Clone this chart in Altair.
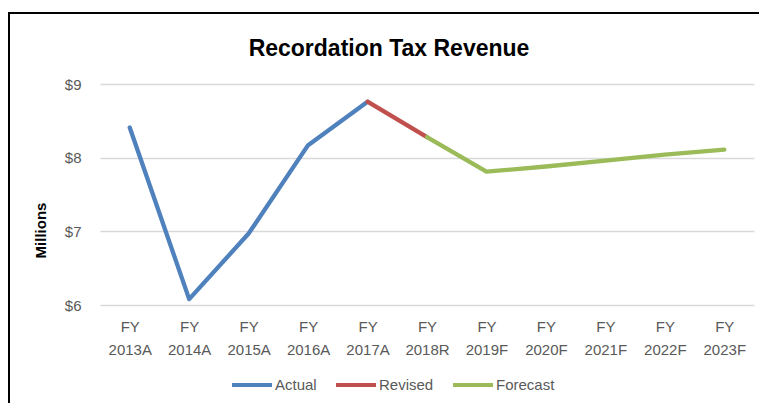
import altair as alt
import pandas as pd

categories = ["FY 2013A", "FY 2014A", "FY 2015A", "FY 2016A", "FY 2017A", "FY 2018R",
              "FY 2019F", "FY 2020F", "FY 2021F", "FY 2022F", "FY 2023F"]
actual_cats = categories[0:5]
actual_vals = [8.41, 6.08, 6.97, 8.17, 8.76]
revised_cats = categories[4:6]
revised_vals = [8.76, 8.28]
forecast_cats = categories[5:11]
forecast_vals = [8.28, 7.81, 7.88, 7.96, 8.04, 8.11]

series_names = ["Actual", "Revised", "Forecast"]
series_colors = ["#4F81BD", "#C0504D", "#9BBB59"]
chart_title = "Recordation Tax Revenue"

rows = []
for name, cats, vals in [("Actual", actual_cats, actual_vals),
                         ("Revised", revised_cats, revised_vals),
                         ("Forecast", forecast_cats, forecast_vals)]:
    for c, v in zip(cats, vals):
        rows.append({"series": name, "year": c, "value": v})
df = pd.DataFrame(rows)

FONT = "Liberation Sans"
GRAY = "#595959"

lines = alt.Chart(df).mark_line(strokeWidth=4.3, strokeCap="round", strokeJoin="round").encode(
    x=alt.X("year:O", sort=categories, scale=alt.Scale(domain=categories, padding=0.5),
            axis=alt.Axis(title=None, labelAngle=0, ticks=False, domain=False, grid=False,
                          labelExpr="split(datum.label, ' ')", labelLineHeight=23,
                          labelPadding=14, labelFontSize=15, labelColor=GRAY, labelFont=FONT)),
    y=alt.Y("value:Q", scale=alt.Scale(domain=[6, 9], nice=False, zero=False),
            axis=alt.Axis(title="Millions", values=[6, 7, 8, 9], format="$d", ticks=False,
                          domain=False, gridColor="#D9D9D9", gridWidth=1.3,
                          labelPadding=19, labelFontSize=15, labelColor=GRAY, labelFont=FONT,
                          titleFont=FONT, titleFontSize=15, titleFontWeight="bold",
                          titleColor="#000000", titleX=-52, titleY=146, titleAngle=-90)),
    color=alt.Color("series:N", sort=series_names,
                    scale=alt.Scale(domain=series_names, range=series_colors),
                    legend=alt.Legend(title=None, orient="none", direction="horizontal",
                                      legendX=130, legendY=279, symbolType="stroke",
                                      symbolSize=1600, symbolStrokeWidth=4,
                                      labelFontSize=15, labelColor=GRAY, labelFont=FONT,
                                      labelOffset=1, columnPadding=11)),
    detail="series:N",
)

title_text = alt.Chart(pd.DataFrame({"t": [chart_title]})).mark_text(
    font=FONT, fontSize=23, fontWeight="bold", color="#000000", align="center", baseline="alphabetic"
).encode(text="t:N", x=alt.value(289), y=alt.value(-28))

frame_top = alt.Chart(pd.DataFrame({"k": [0]})).mark_rule(color="black", strokeWidth=2).encode(
    x=alt.value(-95), x2=alt.value(680), y=alt.value(-71)
)
frame_left = alt.Chart(pd.DataFrame({"k": [0]})).mark_rule(color="black", strokeWidth=2).encode(
    x=alt.value(-91), y=alt.value(-71), y2=alt.value(340)
)

chart = alt.layer(frame_top, frame_left, title_text, lines).properties(
    width=654, height=221,
    autosize=alt.AutoSizeParams(type="none"),
    padding={"left": 92, "top": 76, "right": 5, "bottom": 98},
).configure_view(stroke=None)

chart.save("out.html", embed_options={"renderer": "svg", "actions": False})
